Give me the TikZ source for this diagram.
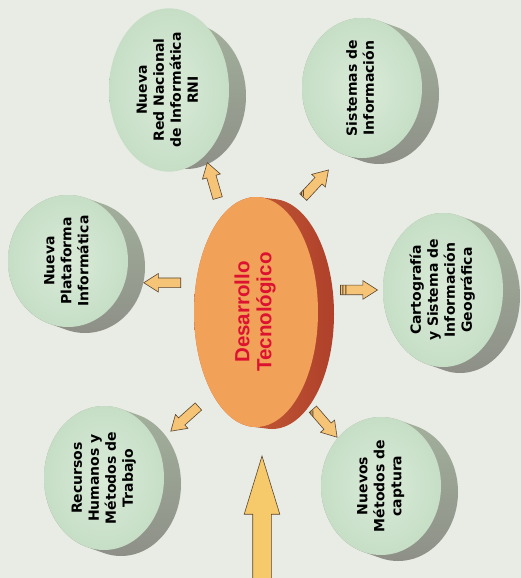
\documentclass[tikz,border=0pt]{standalone}
\usepackage{fontspec}
\setmainfont{DejaVu Sans}
\newfontfamily\discfont{DejaVu Sans Bold}
\newfontfamily\redfont{Liberation Sans Bold}
\usetikzlibrary{shapes,calc}
\definecolor{paper}{HTML}{E9EBE5}
\definecolor{face}{HTML}{C6DEC6}
\definecolor{facelt}{HTML}{DAEBD8}
\definecolor{sidelt}{HTML}{A3B19C}
\definecolor{sidedk}{HTML}{5E4C4C}
\definecolor{sidebt}{HTML}{8E9088}
\definecolor{orng}{HTML}{F1A158}
\definecolor{orngdk}{HTML}{B0402A}
\definecolor{arrowfill}{HTML}{F5C476}
\definecolor{arrowline}{HTML}{5A4530}
\definecolor{titlered}{HTML}{DC1230}
\newcommand\vtext[1]{\rotatebox{90}{\begin{tabular}{@{}c@{}}#1\end{tabular}}}
\newcommand\disc[5]{\shade[top color=sidelt,middle color=sidedk,bottom color=sidebt]
    foreach \s in {0,...,8}{(#2+17*\s/8,#3-6*\s/8) ellipse (60 and #4)};
  \node(#1)[disc,minimum height=2*#4] at (#2,#3) {\vtext{#5}};}

\begin{document}
\begin{tikzpicture}[x=1pt,y=1pt,
    disc/.style={ellipse,minimum width=120,inner sep=0,outer sep=0,
        inner color=facelt,outer color=face,font=\discfont\fontsize{14}{17}\selectfont},
    core/.style={ellipse,minimum width=124,minimum height=230,inner sep=0,outer sep=0,
        fill=orng,text=titlered,font=\redfont\fontsize{20.5}{22}\selectfont},
    pointer/.style={single arrow,draw=arrowline,fill=arrowfill,line width=.6pt,
        minimum height=37,minimum width=18,single arrow head extend=4.5pt,
        single arrow tip angle=65,inner xsep=0,inner ysep=4.5pt,sloped,allow upside down,
        path picture={
          \draw[arrowline,line width=1pt]
            ([xshift=2.5pt]path picture bounding box.south west) -- ([xshift=2.5pt]path picture bounding box.north west)
            ([xshift=5.5pt]path picture bounding box.south west) -- ([xshift=5.5pt]path picture bounding box.north west);}},
    bigarrow/.style={single arrow,draw=arrowline,fill=arrowfill!90!yellow,line width=.6pt,
        minimum height=135,minimum width=35,single arrow head extend=8.5pt,
        single arrow tip angle=34,inner xsep=0,inner ysep=9pt}]
  \fill[paper] (0,0) rectangle (521,-578);
  \useasboundingbox (0,0) rectangle (521,-578);

  % center disc
  \shade[left color=orngdk!60!orng,right color=orngdk]
    foreach \s in {0,...,8}{(256+16*\s/8,-312-2*\s/8) ellipse (62 and 115)};
  \node(dt)[core] at (256,-312) {\vtext{Desarrollo\\Tecnológico}};

  % outer discs
  \disc{rni}{169}{-90}{73}{Nueva\\Red Nacional\\de Informática\\RNI}
  \disc{si}{362}{-88}{70}{Sistemas de\\Información}
  \disc{npi}{68}{-261}{66}{Nueva\\Plataforma\\Informática}
  \disc{sig}{443}{-290}{77}{Cartografía\\y Sistema de\\Información\\Geográfica}
  \disc{rh}{104}{-478}{72}{Recursos\\Humanos y\\Métodos de\\Trabajo}
  \disc{nm}{381}{-486}{69}{Nuevos\\Métodos de\\captura}

  % arrows out of the center
  \path (dt.109) -- node[pointer,pos=.52]{} (rni.299);
  \path (dt.72)  -- node[pointer,pos=.46]{} (si.254);
  \path (dt.154) -- node[pointer,pos=.42]{} (npi.339);
  \path (dt.20)  -- node[pointer,pos=.58]{} (sig.180);
  \path (dt.242) -- node[pointer,pos=.45]{} (rh.33);
  \path (dt.298) -- node[pointer,pos=.6]{}  (nm.132);

  % arrow into the center
  \node(up)[bigarrow,rotate=90,anchor=tip] at ($(dt.south)+(6,-28)$) {};
\end{tikzpicture}
\end{document}
